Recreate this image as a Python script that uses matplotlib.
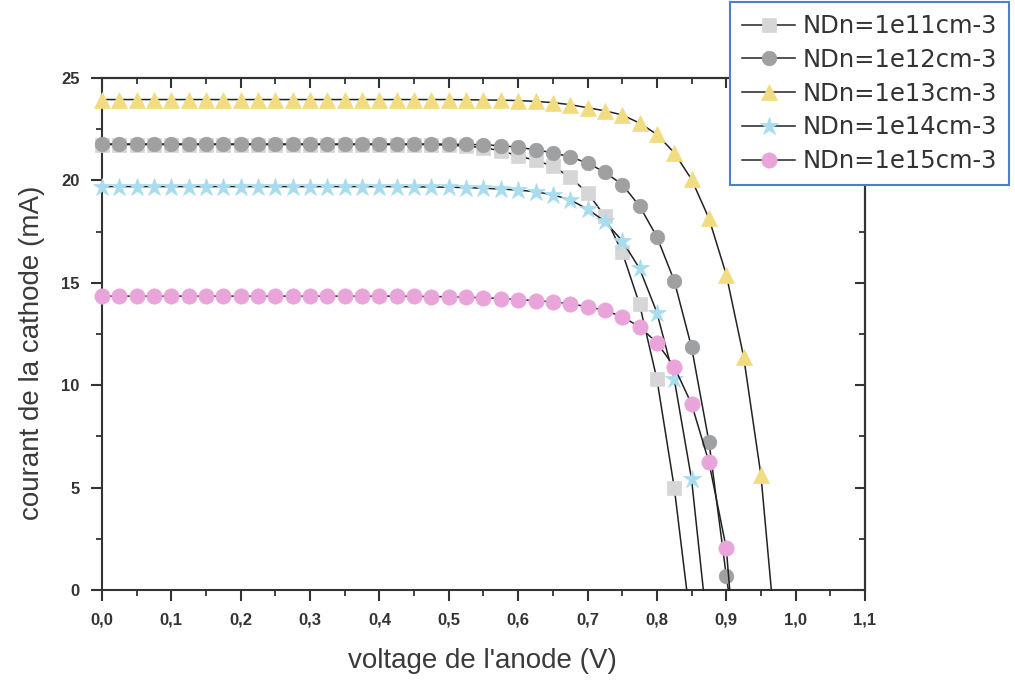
import matplotlib
matplotlib.use("Agg")
import matplotlib.pyplot as plt
from matplotlib.ticker import MultipleLocator, FuncFormatter

plt.rcParams['font.family'] = ['Liberation Sans', 'DejaVu Sans']

labels = ["NDn=1e11cm-3", "NDn=1e12cm-3", "NDn=1e13cm-3", "NDn=1e14cm-3", "NDn=1e15cm-3"]

# marker voltages (V)
v_1e11 = [0.0, 0.025, 0.05, 0.075, 0.1, 0.125, 0.15, 0.175, 0.2, 0.225, 0.25, 0.275, 0.3, 0.325,
          0.35, 0.375, 0.4, 0.425, 0.45, 0.475, 0.5, 0.525, 0.55, 0.575, 0.6, 0.625, 0.65, 0.675,
          0.7, 0.725, 0.75, 0.775, 0.8, 0.825]
i_1e11 = [21.75, 21.75, 21.75, 21.75, 21.75, 21.75, 21.75, 21.75, 21.75, 21.75, 21.75, 21.75, 21.75,
          21.75, 21.75, 21.75, 21.75, 21.75, 21.75, 21.75, 21.72, 21.68, 21.6, 21.45, 21.2, 20.98,
          20.7, 20.15, 19.4, 18.25, 16.5, 13.95, 10.3, 5.0]
voc_1e11 = 0.843

v_1e12 = [0.0, 0.025, 0.05, 0.075, 0.1, 0.125, 0.15, 0.175, 0.2, 0.225, 0.25, 0.275, 0.3, 0.325,
          0.35, 0.375, 0.4, 0.425, 0.45, 0.475, 0.5, 0.525, 0.55, 0.575, 0.6, 0.625, 0.65, 0.675,
          0.7, 0.725, 0.75, 0.775, 0.8, 0.825, 0.85, 0.875, 0.9]
i_1e12 = [21.78, 21.78, 21.78, 21.78, 21.78, 21.78, 21.78, 21.78, 21.78, 21.78, 21.78, 21.78, 21.78,
          21.78, 21.78, 21.78, 21.78, 21.78, 21.78, 21.78, 21.77, 21.76, 21.74, 21.7, 21.62, 21.5,
          21.35, 21.15, 20.85, 20.4, 19.8, 18.75, 17.25, 15.1, 11.85, 7.25, 0.7]
voc_1e12 = 0.903

v_1e13 = [0.0, 0.025, 0.05, 0.075, 0.1, 0.125, 0.15, 0.175, 0.2, 0.225, 0.25, 0.275, 0.3, 0.325,
          0.35, 0.375, 0.4, 0.425, 0.45, 0.475, 0.5, 0.525, 0.55, 0.575, 0.6, 0.625, 0.65, 0.675,
          0.7, 0.725, 0.75, 0.775, 0.8, 0.825, 0.85, 0.875, 0.9, 0.925, 0.95]
i_1e13 = [23.95, 23.95, 23.95, 23.95, 23.95, 23.95, 23.95, 23.95, 23.95, 23.95, 23.95, 23.95, 23.95,
          23.95, 23.95, 23.95, 23.95, 23.95, 23.95, 23.95, 23.95, 23.94, 23.93, 23.92, 23.9, 23.86,
          23.8, 23.7, 23.55, 23.4, 23.2, 22.8, 22.25, 21.35, 20.05, 18.15, 15.4, 11.4, 5.6]
voc_1e13 = 0.965

v_1e14 = [0.0, 0.025, 0.05, 0.075, 0.1, 0.125, 0.15, 0.175, 0.2, 0.225, 0.25, 0.275, 0.3, 0.325,
          0.35, 0.375, 0.4, 0.425, 0.45, 0.475, 0.5, 0.525, 0.55, 0.575, 0.6, 0.625, 0.65, 0.675,
          0.7, 0.725, 0.75, 0.775, 0.8, 0.825, 0.85]
i_1e14 = [19.7, 19.7, 19.7, 19.7, 19.7, 19.7, 19.7, 19.7, 19.7, 19.7, 19.7, 19.7, 19.7,
          19.7, 19.7, 19.7, 19.7, 19.7, 19.69, 19.68, 19.67, 19.65, 19.62, 19.58, 19.53, 19.45,
          19.3, 19.05, 18.6, 18.0, 17.05, 15.7, 13.55, 10.3, 5.4]
voc_1e14 = 0.867

v_1e15 = [0.0, 0.025, 0.05, 0.075, 0.1, 0.125, 0.15, 0.175, 0.2, 0.225, 0.25, 0.275, 0.3, 0.325,
          0.35, 0.375, 0.4, 0.425, 0.45, 0.475, 0.5, 0.525, 0.55, 0.575, 0.6, 0.625, 0.65, 0.675,
          0.7, 0.725, 0.75, 0.775, 0.8, 0.825, 0.85, 0.875, 0.9]
i_1e15 = [14.35, 14.35, 14.35, 14.35, 14.35, 14.35, 14.35, 14.35, 14.35, 14.35, 14.35, 14.35, 14.35,
          14.35, 14.35, 14.35, 14.35, 14.35, 14.34, 14.33, 14.32, 14.3, 14.27, 14.23, 14.18, 14.13,
          14.07, 13.98, 13.83, 13.65, 13.35, 12.85, 12.08, 10.9, 9.08, 6.25, 2.05]
voc_1e15 = 0.905

series = [
    (v_1e11, i_1e11, voc_1e11, 's', '#D6D6D6', 9.5),
    (v_1e12, i_1e12, voc_1e12, 'o', '#9FA0A2', 10.5),
    (v_1e13, i_1e13, voc_1e13, '^', '#F2DC82', 11.5),
    (v_1e14, i_1e14, voc_1e14, '*', '#A9DDEE', 13.5),
    (v_1e15, i_1e15, voc_1e15, 'o', '#E9A5DA', 11),
]

fig = plt.figure(figsize=(10.15, 6.81), dpi=100)
ax = fig.add_axes([0.1005, 0.1336, 0.7517, 0.7518])

handles = []
for (v, cur, voc, mk, col, ms), lab in zip(series, labels):
    xs = list(v) + [voc]
    ys = list(cur) + [0.0]
    h, = ax.plot(xs, ys, color='#222222', lw=1.1, marker=mk, ms=ms,
                 markerfacecolor=col, markeredgecolor=col, markeredgewidth=0.5,
                 markevery=list(range(len(v))), label=lab, clip_on=False, zorder=3)
    handles.append(h)

ax.set_xlim(0, 1.1)
ax.set_ylim(0, 25)
ax.xaxis.set_major_locator(MultipleLocator(0.1))
ax.xaxis.set_minor_locator(MultipleLocator(0.05))
ax.yaxis.set_major_locator(MultipleLocator(5))
ax.yaxis.set_minor_locator(MultipleLocator(2.5))
ax.xaxis.set_major_formatter(FuncFormatter(lambda x, p: f"{x:.1f}".replace('.', ',')))
ax.yaxis.set_major_formatter(FuncFormatter(lambda y, p: f"{y:.0f}"))

for sp in ax.spines.values():
    sp.set_linewidth(1.5)
    sp.set_color('#333333')

ax.tick_params(axis='both', which='major', direction='out', length=8, width=1.5,
               colors='#333333', labelsize=12, pad=8)
ax.tick_params(axis='both', which='minor', direction='out', length=4.5, width=1.3, colors='#333333')
for t in ax.get_xticklabels() + ax.get_yticklabels():
    t.set_fontweight('bold')
    t.set_color('#333333')

# top/right ticks pointing inward
sec_x = ax.secondary_xaxis('top')
sec_x.xaxis.set_major_locator(MultipleLocator(0.1))
sec_x.xaxis.set_minor_locator(MultipleLocator(0.05))
sec_x.tick_params(which='major', direction='in', length=7, width=1.5, labeltop=False, colors='#333333')
sec_x.tick_params(which='minor', direction='in', length=4, width=1.3, colors='#333333')
sec_x.spines['top'].set_linewidth(1.5)
sec_y = ax.secondary_yaxis('right')
sec_y.yaxis.set_major_locator(MultipleLocator(5))
sec_y.yaxis.set_minor_locator(MultipleLocator(2.5))
sec_y.tick_params(which='major', direction='in', length=7, width=1.5, labelright=False, colors='#333333')
sec_y.tick_params(which='minor', direction='in', length=4, width=1.3, colors='#333333')
sec_y.spines['right'].set_linewidth(1.5)

ax.set_xlabel("voltage de l'anode (V)", fontsize=20, color='#3a3a3a')
ax.set_ylabel("courant de la cathode (mA)", fontsize=20, color='#3a3a3a')
ax.xaxis.set_label_coords(0.4987, -0.113)
ax.yaxis.set_label_coords(-0.0747, 0.463)

leg = fig.legend(handles=handles, labels=labels, loc='upper left',
                 bbox_to_anchor=(0.719, 0.997), frameon=True,
                 prop={'family': 'DejaVu Sans', 'size': 17.5},
                 fancybox=False, edgecolor='#4A7FD4', framealpha=1.0,
                 handlelength=2.2, handletextpad=0.3, labelspacing=0.4,
                 borderpad=0.5, borderaxespad=0.0)
leg.get_frame().set_linewidth(1.5)
for t in leg.get_texts():
    t.set_color('#333333')

fig.savefig("out.png", dpi=100, facecolor='white')
